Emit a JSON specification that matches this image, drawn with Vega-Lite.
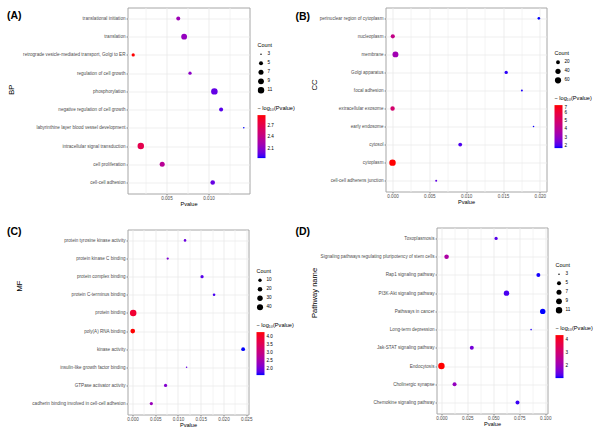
{
  "$schema": "https://vega.github.io/schema/vega-lite/v6.json",
  "background": "white",
  "padding": {"left": 6.5, "top": 6.5, "right": 0, "bottom": 0},
  "datasets": {
    "bp": [
      {"term": "translational initiation", "Pvalue": 0.0064, "neglog": 2.19, "Count": 5},
      {"term": "translation", "Pvalue": 0.0071, "neglog": 2.15, "Count": 9},
      {"term": "retrograde vesicle-mediated transport, Golgi to ER", "Pvalue": 0.00104, "neglog": 2.98, "Count": 4},
      {"term": "regulation of cell growth", "Pvalue": 0.0078, "neglog": 2.11, "Count": 4},
      {"term": "phosphorylation", "Pvalue": 0.0107, "neglog": 1.97, "Count": 11},
      {"term": "negative regulation of cell growth", "Pvalue": 0.0115, "neglog": 1.94, "Count": 5},
      {"term": "labyrinthine layer blood vessel development", "Pvalue": 0.0142, "neglog": 1.85, "Count": 3},
      {"term": "intracellular signal transduction", "Pvalue": 0.00194, "neglog": 2.71, "Count": 11},
      {"term": "cell proliferation", "Pvalue": 0.00449, "neglog": 2.35, "Count": 7},
      {"term": "cell-cell adhesion", "Pvalue": 0.0105, "neglog": 1.98, "Count": 6}
    ],
    "cc": [
      {"term": "perinuclear region of cytoplasm", "Pvalue": 0.01986, "neglog": 1.7, "Count": 9},
      {"term": "nucleoplasm", "Pvalue": 0.00004, "neglog": 4.4, "Count": 23},
      {"term": "membrane", "Pvalue": 0.0004, "neglog": 3.4, "Count": 54},
      {"term": "Golgi apparatus", "Pvalue": 0.01543, "neglog": 1.81, "Count": 14},
      {"term": "focal adhesion", "Pvalue": 0.01756, "neglog": 1.76, "Count": 7},
      {"term": "extracellular exosome", "Pvalue": 0.00001, "neglog": 5.0, "Count": 27},
      {"term": "early endosome", "Pvalue": 0.01914, "neglog": 1.72, "Count": 6},
      {"term": "cytosol", "Pvalue": 0.00919, "neglog": 2.04, "Count": 19},
      {"term": "cytoplasm", "Pvalue": 0.0000001, "neglog": 7.0, "Count": 66},
      {"term": "cell-cell adherens junction", "Pvalue": 0.00593, "neglog": 2.23, "Count": 7}
    ],
    "mf": [
      {"term": "protein tyrosine kinase activity", "Pvalue": 0.01155, "neglog": 1.94, "Count": 6},
      {"term": "protein kinase C binding", "Pvalue": 0.00774, "neglog": 2.11, "Count": 5},
      {"term": "protein complex binding", "Pvalue": 0.01529, "neglog": 1.82, "Count": 9},
      {"term": "protein C-terminus binding", "Pvalue": 0.01793, "neglog": 1.75, "Count": 6},
      {"term": "protein binding", "Pvalue": 0.00015, "neglog": 3.95, "Count": 46},
      {"term": "poly(A) RNA binding", "Pvalue": 0.00005, "neglog": 4.3, "Count": 21},
      {"term": "kinase activity", "Pvalue": 0.02432, "neglog": 1.61, "Count": 13},
      {"term": "insulin-like growth factor binding", "Pvalue": 0.01189, "neglog": 1.92, "Count": 4},
      {"term": "GTPase activator activity", "Pvalue": 0.00727, "neglog": 2.14, "Count": 9},
      {"term": "cadherin binding involved in cell-cell adhesion", "Pvalue": 0.00414, "neglog": 2.38, "Count": 9}
    ],
    "kegg": [
      {"term": "Toxoplasmosis", "Pvalue": 0.0527, "neglog": 1.28, "Count": 4},
      {"term": "Signaling pathways regulating pluripotency of stem cells", "Pvalue": 0.005, "neglog": 2.3, "Count": 6},
      {"term": "Rap1 signaling pathway", "Pvalue": 0.0934, "neglog": 1.03, "Count": 5},
      {"term": "PI3K-Akt signaling pathway", "Pvalue": 0.0627, "neglog": 1.2, "Count": 8},
      {"term": "Pathways in cancer", "Pvalue": 0.0976, "neglog": 1.01, "Count": 8},
      {"term": "Long-term depression", "Pvalue": 0.0864, "neglog": 1.06, "Count": 3},
      {"term": "Jak-STAT signaling pathway", "Pvalue": 0.0293, "neglog": 1.53, "Count": 5},
      {"term": "Endocytosis", "Pvalue": 0.00004, "neglog": 4.4, "Count": 11},
      {"term": "Cholinergic synapse", "Pvalue": 0.0127, "neglog": 1.9, "Count": 5},
      {"term": "Chemokine signaling pathway", "Pvalue": 0.0733, "neglog": 1.13, "Count": 5}
    ]
  },
  "config": {
    "font": "Liberation Sans",
    "view": {"stroke": "#a6a6a6", "strokeWidth": 1},
    "title": {"fontSize": 10.5, "fontWeight": "bold", "anchor": "start", "frame": "group", "color": "#000000"},
    "axis": {"domain": false, "grid": true, "gridColor": "#ebebeb", "gridWidth": 0.8, "tickColor": "#4d4d4d", "tickSize": 1.5, "tickWidth": 0.6, "labelFontSize": 4.6, "labelColor": "#4d4d4d", "labelOverlap": false, "titleFontSize": 5.6, "titleFontWeight": "normal", "titleColor": "#000000"},
    "axisX": {"labelPadding": 0.5, "titlePadding": 1, "labelFlush": false},
    "axisY": {"labelPadding": 1, "titleFontSize": 7.6},
    "legend": {"offset": 8, "titleFontSize": 5.4, "titleFontWeight": "normal", "titleColor": "#000000", "labelFontSize": 4.6, "labelColor": "#000000", "labelOffset": 3, "gradientLength": 43, "gradientThickness": 8, "gradientStrokeWidth": 0, "clipHeight": 8.8, "rowPadding": 0, "symbolStrokeWidth": 0, "labelOverlap": false, "layout": {"right": {"anchor": "middle", "direction": "vertical", "margin": 10}}}
  },
  "columns": 2,
  "align": "none",
  "bounds": "full",
  "spacing": {"row": 19, "column": -2},
  "resolve": {"scale": {"color": "independent", "size": "independent"}, "legend": {"color": "independent", "size": "independent"}},
  "concat": [
    {
      "width": 122, "height": 186,
      "title": {"text": "(A)", "dx": -120.5, "offset": -14},
      "data": {"name": "bp"},
      "encoding": {
        "x": {"field": "Pvalue", "type": "quantitative", "title": "Pvalue",
          "scale": {"domain": [0.00036, 0.01488], "nice": false, "zero": false},
          "axis": {"values": [0.0025, 0.005, 0.0075, 0.01, 0.0125],
            "labelExpr": "abs(datum.value/0.005 - round(datum.value/0.005)) < 0.001 ? format(datum.value, '.3f') : ''",
            "tickOpacity": {"condition": {"test": "abs(datum.value/0.005 - round(datum.value/0.005)) < 0.001", "value": 1}, "value": 0},
            "gridColor": {"condition": {"test": "abs(datum.value/0.005 - round(datum.value/0.005)) < 0.001", "value": "#e8e8e8"}, "value": "#f1f1f1"}}},
        "y": {"field": "term", "type": "nominal", "sort": null, "title": "BP",
          "scale": {"type": "point", "padding": 0.6},
          "axis": {"titlePadding": 7, "titleY": 81.7}}
      },
      "layer": [
        {"transform": [{"filter": "false"}],
         "mark": {"type": "circle", "color": "black", "opacity": 1},
         "encoding": {"size": {"field": "Count", "type": "quantitative", "title": "Count",
           "scale": {"domain": [3, 4, 5, 6, 7, 8, 9, 10, 11], "range": [2.3, 10.6, 15.9, 20.7, 25.2, 29.5, 33.7, 37.8, 41.9], "zero": false},
           "legend": {"values": [3, 5, 7, 9, 11], "titlePadding": 2}}}},
        {"mark": {"type": "circle", "opacity": 1},
         "encoding": {
           "size": {"field": "Count", "type": "quantitative", "title": "Count",
             "scale": {"domain": [3, 4, 5, 6, 7, 8, 9, 10, 11], "range": [2.3, 10.6, 15.9, 20.7, 25.2, 29.5, 33.7, 37.8, 41.9], "zero": false}, "legend": null},
           "color": {"field": "neglog", "type": "quantitative", "title": "− log₁₀(Pvalue)",
             "scale": {"domain": [1.85, 2.98], "range": ["#0000ff", "#ff0000"], "interpolate": "lab"},
             "legend": {"values": [2.1, 2.4, 2.7], "format": ".1f", "titlePadding": 4, "titleFontSize": 5.6}}}}
      ]
    },
    {
      "width": 161, "height": 184,
      "title": {"text": "(B)", "dx": -90, "offset": -15.3},
      "data": {"name": "cc"},
      "encoding": {
        "x": {"field": "Pvalue", "type": "quantitative", "title": "Pvalue",
          "scale": {"domain": [-0.00095, 0.0209], "nice": false, "zero": false},
          "axis": {"values": [0, 0.0025, 0.005, 0.0075, 0.01, 0.0125, 0.015, 0.0175, 0.02],
            "labelExpr": "abs(datum.value/0.005 - round(datum.value/0.005)) < 0.001 ? format(datum.value, '.3f') : ''",
            "tickOpacity": {"condition": {"test": "abs(datum.value/0.005 - round(datum.value/0.005)) < 0.001", "value": 1}, "value": 0},
            "gridColor": {"condition": {"test": "abs(datum.value/0.005 - round(datum.value/0.005)) < 0.001", "value": "#e8e8e8"}, "value": "#f1f1f1"}}},
        "y": {"field": "term", "type": "nominal", "sort": null, "title": "CC",
          "scale": {"type": "point", "padding": 0.6},
          "axis": {"titlePadding": 1, "titleY": 77}}
      },
      "layer": [
        {"transform": [{"filter": "false"}],
         "mark": {"type": "circle", "color": "black", "opacity": 1},
         "encoding": {"size": {"field": "Count", "type": "quantitative", "title": "Count",
           "scale": {"domain": [6, 8, 10, 15, 20, 30, 40, 50, 60, 66], "range": [2.3, 5.8, 7.8, 11.8, 15.2, 21.6, 27.5, 33.1, 38.6, 41.9], "zero": false},
           "legend": {"values": [20, 40, 60], "titlePadding": 2}}}},
        {"mark": {"type": "circle", "opacity": 1},
         "encoding": {
           "size": {"field": "Count", "type": "quantitative", "title": "Count",
             "scale": {"domain": [6, 8, 10, 15, 20, 30, 40, 50, 60, 66], "range": [2.3, 5.8, 7.8, 11.8, 15.2, 21.6, 27.5, 33.1, 38.6, 41.9], "zero": false}, "legend": null},
           "color": {"field": "neglog", "type": "quantitative", "title": "− log₁₀(Pvalue)",
             "scale": {"domain": [1.7, 7.0], "range": ["#0000ff", "#ff0000"], "interpolate": "lab"},
             "legend": {"values": [2, 3, 4, 5, 6, 7], "format": "d", "titlePadding": 4, "titleFontSize": 5.6}}}}
      ]
    },
    {
      "width": 121, "height": 185,
      "title": {"text": "(C)", "dx": -120.5, "offset": -8},
      "data": {"name": "mf"},
      "encoding": {
        "x": {"field": "Pvalue", "type": "quantitative", "title": "Pvalue",
          "scale": {"domain": [-0.0011, 0.0255], "nice": false, "zero": false},
          "axis": {"values": [0, 0.0025, 0.005, 0.0075, 0.01, 0.0125, 0.015, 0.0175, 0.02, 0.0225, 0.025],
            "labelExpr": "abs(datum.value/0.005 - round(datum.value/0.005)) < 0.001 ? format(datum.value, '.3f') : ''",
            "tickOpacity": {"condition": {"test": "abs(datum.value/0.005 - round(datum.value/0.005)) < 0.001", "value": 1}, "value": 0},
            "gridColor": {"condition": {"test": "abs(datum.value/0.005 - round(datum.value/0.005)) < 0.001", "value": "#e8e8e8"}, "value": "#f1f1f1"}}},
        "y": {"field": "term", "type": "nominal", "sort": null, "title": "MF",
          "scale": {"type": "point", "padding": 0.6},
          "axis": {"titlePadding": 8, "titleY": 56}}
      },
      "layer": [
        {"transform": [{"filter": "false"}],
         "mark": {"type": "circle", "color": "black", "opacity": 1},
         "encoding": {"size": {"field": "Count", "type": "quantitative", "title": "Count",
           "scale": {"domain": [4, 5, 6, 8, 10, 15, 20, 30, 40, 46], "range": [2.3, 5.2, 6.7, 9.2, 11.5, 16.4, 20.9, 29.3, 37.2, 41.9], "zero": false},
           "legend": {"values": [10, 20, 30, 40], "titlePadding": 2}}}},
        {"mark": {"type": "circle", "opacity": 1},
         "encoding": {
           "size": {"field": "Count", "type": "quantitative", "title": "Count",
             "scale": {"domain": [4, 5, 6, 8, 10, 15, 20, 30, 40, 46], "range": [2.3, 5.2, 6.7, 9.2, 11.5, 16.4, 20.9, 29.3, 37.2, 41.9], "zero": false}, "legend": null},
           "color": {"field": "neglog", "type": "quantitative", "title": "− log₁₀(Pvalue)",
             "scale": {"domain": [1.61, 4.3], "range": ["#0000ff", "#ff0000"], "interpolate": "lab"},
             "legend": {"values": [2.0, 2.5, 3.0, 3.5, 4.0], "format": ".1f", "titlePadding": 4, "titleFontSize": 5.6}}}}
      ]
    },
    {
      "width": 111, "height": 186,
      "title": {"text": "(D)", "dx": -141, "offset": -10.3},
      "data": {"name": "kegg"},
      "encoding": {
        "x": {"field": "Pvalue", "type": "quantitative", "title": "Pvalue",
          "scale": {"domain": [-0.0047, 0.1022], "nice": false, "zero": false},
          "axis": {"values": [0, 0.0125, 0.025, 0.0375, 0.05, 0.0625, 0.075, 0.0875, 0.1],
            "labelExpr": "abs(datum.value/0.025 - round(datum.value/0.025)) < 0.001 ? format(datum.value, '.3f') : ''",
            "tickOpacity": {"condition": {"test": "abs(datum.value/0.025 - round(datum.value/0.025)) < 0.001", "value": 1}, "value": 0},
            "gridColor": {"condition": {"test": "abs(datum.value/0.025 - round(datum.value/0.025)) < 0.001", "value": "#e8e8e8"}, "value": "#f1f1f1"}}},
        "y": {"field": "term", "type": "nominal", "sort": null, "title": "Pathway name",
          "scale": {"type": "point", "padding": 0.6},
          "axis": {"titlePadding": 2, "titleY": 65}}
      },
      "layer": [
        {"transform": [{"filter": "false"}],
         "mark": {"type": "circle", "color": "black", "opacity": 1},
         "encoding": {"size": {"field": "Count", "type": "quantitative", "title": "Count",
           "scale": {"domain": [3, 4, 5, 6, 7, 8, 9, 10, 11], "range": [2.3, 10.6, 15.9, 20.7, 25.2, 29.5, 33.7, 37.8, 41.9], "zero": false},
           "legend": {"values": [3, 5, 7, 9, 11], "titlePadding": 2}}}},
        {"mark": {"type": "circle", "opacity": 1},
         "encoding": {
           "size": {"field": "Count", "type": "quantitative", "title": "Count",
             "scale": {"domain": [3, 4, 5, 6, 7, 8, 9, 10, 11], "range": [2.3, 10.6, 15.9, 20.7, 25.2, 29.5, 33.7, 37.8, 41.9], "zero": false}, "legend": null},
           "color": {"field": "neglog", "type": "quantitative", "title": "− log₁₀(Pvalue)",
             "scale": {"domain": [1.01, 4.4], "range": ["#0000ff", "#ff0000"], "interpolate": "lab"},
             "legend": {"values": [2, 3, 4], "format": "d", "titlePadding": 4, "titleFontSize": 5.6}}}}
      ]
    }
  ]
}
